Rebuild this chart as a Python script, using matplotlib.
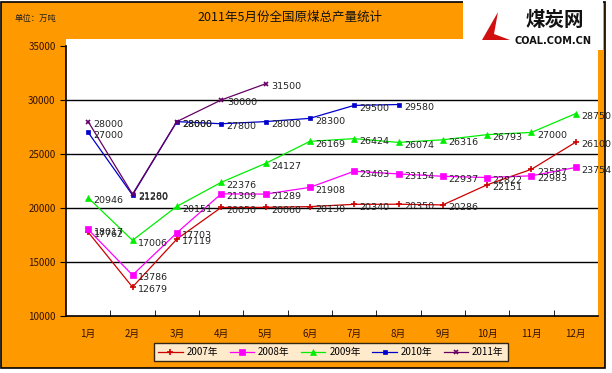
import matplotlib
matplotlib.use("Agg")
import matplotlib.pyplot as plt
from matplotlib.patches import Rectangle, Polygon

plt.rcParams['font.family'] = ['Noto Sans CJK SC', 'DejaVu Sans']

# 数据 (万吨)
months = ['1月', '2月', '3月', '4月', '5月', '6月', '7月', '8月', '9月', '10月', '11月', '12月']
y2007 = [17762, 12679, 17119, 20050, 20060, 20130, 20340, 20350, 20286, 22151, 23587, 26100]
y2008 = [18017, 13786, 17703, 21309, 21289, 21908, 23403, 23154, 22937, 22822, 22983, 23754]
y2009 = [20946, 17006, 20151, 22376, 24127, 26169, 26424, 26074, 26316, 26793, 27000, 28750]
y2010 = [27000, 21200, 28000, 27800, 28000, 28300, 29500, 29580]
y2011 = [28000, 21280, 28000, 30000, 31500]

series = [
    ('2007年', y2007, '#CC0000', '+', 4),
    ('2008年', y2008, '#FF00FF', 's', 4),
    ('2009年', y2009, '#00EE00', '^', 4.5),
    ('2010年', y2010, '#0000CC', 's', 3),
    ('2011年', y2011, '#660066', 'x', 3.5),
]

orange = '#FF9900'
fig = plt.figure(figsize=(6.12, 3.73), dpi=100)
fig.patch.set_facecolor('white')
# chart area with border
fig.patches.append(Rectangle((0.002, 1 - 368 / 373), 604 / 612, 366 / 373,
                             transform=fig.transFigure, facecolor=orange,
                             edgecolor='black', linewidth=1.2, zorder=-10))
# white strip above the plot area
fig.patches.append(Rectangle((66 / 612, 1 - 47 / 373), 532 / 612, 8 / 373,
                             transform=fig.transFigure, facecolor='white',
                             edgecolor='none', zorder=-9))

ax = fig.add_axes([66 / 612, 57 / 373, 532 / 612, 270 / 373])
ax.set_facecolor('white')
x = list(range(len(months)))

for name, vals, col, mk, ms in series:
    xs = x[:len(vals)]
    ax.plot(xs, vals, color=col, lw=0.9, marker=mk, markersize=ms,
            markeredgewidth=1.2 if mk in '+x' else 0.5, markerfacecolor=col,
            markeredgecolor=col, label=name)
    for xi, v in zip(xs, vals):
        ax.annotate(str(v), (xi, v), xytext=(4, -2), textcoords='offset points',
                    fontsize=6.8, va='center', ha='left', color='#222222',
                    family='DejaVu Sans', annotation_clip=False)

ax.set_xlim(-0.5, 11.5)
ax.set_ylim(10000, 35000)
ax.set_yticks(range(10000, 35001, 5000))
ax.set_xticks(x)
ax.set_xticklabels(months)
ax.set_xticks([i + 0.5 for i in range(11)], minor=True)
ax.tick_params(axis='x', which='major', length=0, pad=9, labelsize=7, labelcolor='#331100')
ax.tick_params(axis='x', which='minor', length=4, direction='in')
ax.tick_params(axis='y', length=4, direction='out', labelsize=7, labelcolor='#331100')
for yv in range(15000, 35000, 5000):
    ax.axhline(yv, color='black', lw=1, zorder=0.5)
for s in ['top', 'right']:
    ax.spines[s].set_visible(False)
ax.spines['left'].set_linewidth(1.2)
ax.spines['bottom'].set_linewidth(1.2)

leg = ax.legend(loc='center', bbox_to_anchor=(331 / 612, 1 - 352 / 373),
                bbox_transform=fig.transFigure, ncol=5, fontsize=7,
                frameon=True, fancybox=False, edgecolor='black',
                handlelength=2.5, columnspacing=1.2, borderpad=0.4,
                handletextpad=0.4)
leg.get_frame().set_linewidth(1)

# title and unit
fig.text(290 / 612, 1 - 17 / 373, '2011年5月份全国原煤总产量统计', ha='center', va='center',
         fontsize=9, color='#111111')
fig.text(15 / 612, 1 - 18 / 373, '单位：万吨', ha='left', va='center', fontsize=6,
         color='#222222')

# logo box
fig.patches.append(Rectangle((463 / 612, 1 - 50 / 373), 140 / 612, 50 / 373,
                             transform=fig.transFigure, facecolor='white',
                             edgecolor='none', zorder=1))
fig.patches.append(Polygon([(482 / 612, 1 - 40 / 373), (498 / 612, 1 - 12 / 373),
                            (494 / 612, 1 - 34 / 373), (510 / 612, 1 - 40 / 373)],
                           closed=True, transform=fig.transFigure,
                           facecolor='#D01010', edgecolor='none', zorder=2))
fig.text(555 / 612, 1 - 20 / 373, '煤炭网', ha='center', va='center', fontsize=14,
         fontweight='bold', color='#111111', zorder=3)
fig.text(553 / 612, 1 - 41 / 373, 'COAL.COM.CN', ha='center', va='center', fontsize=7,
         fontweight='bold', color='#111111', family='DejaVu Sans', zorder=3)

fig.savefig('out.png', dpi=100)
